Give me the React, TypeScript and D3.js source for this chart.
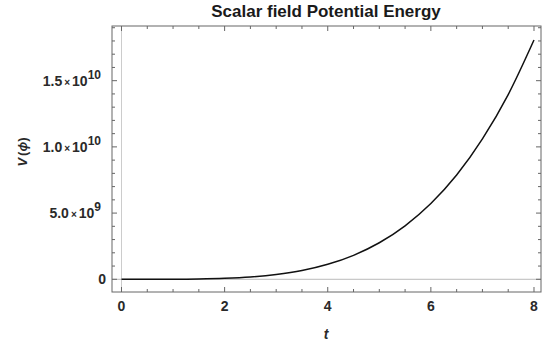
import React from "react";
import * as d3 from "d3";

// Values (V in units of 1e9)
const tValues = [0, 0.5, 1, 1.5, 2, 2.5, 3, 3.5, 4, 4.5, 5, 5.5, 6, 6.5, 7, 7.5, 8];
const vValues = [0, 0.0003, 0.004, 0.022, 0.07, 0.17, 0.36, 0.66, 1.13, 1.81, 2.76, 4.04, 5.72, 7.87, 10.6, 13.95, 18.07];
const xMajorTicks = [0, 2, 4, 6, 8];
const yMajorTicks = [0, 5, 10, 15];
const yTickMantissa = ["0", "5.0", "1.0", "1.5"];
const yTickExponent = ["", "9", "10", "10"];
const xDomain = [-0.184, 8.136];
const yDomain = [-0.96, 19.13];

const W = 552;
const H = 346;

export default function App() {
  const x = d3.scaleLinear().domain(xDomain).range([112, 541]);
  const y = d3.scaleLinear().domain(yDomain).range([292, 26]);
  const data = tValues.map((t, i) => ({ t, v: vValues[i] }));
  const line = d3
    .line<{ t: number; v: number }>()
    .x((d) => x(d.t))
    .y((d) => y(d.v))
    .curve(d3.curveMonotoneX);

  const xMinor = d3.range(0, 8.01, 0.5).filter((v) => Math.abs(v % 2) > 1e-9);
  const yMinor = d3.range(0, 19.01, 1).filter((v) => v % 5 !== 0);

  const [x0, x1] = [x(xDomain[0]), x(xDomain[1])];
  const [y0, y1] = [y(yDomain[0]), y(yDomain[1])];
  const tickColor = "#666";
  const font = "Liberation Sans, Arial, sans-serif";
  const labelColor = "#2a2a2a";

  return (
    <svg
      width={W}
      height={H}
      style={{ position: "absolute", left: 0, top: 0, background: "#fff" }}
      fontFamily={font}
    >
      <rect x={0} y={0} width={W} height={H} fill="#fff" />
      {/* axis lines */}
      <line x1={x0} x2={x1} y1={y(0)} y2={y(0)} stroke="#bbb" strokeWidth={1} />
      <line x1={x(0)} x2={x(0)} y1={y0} y2={y1} stroke="#ccc" strokeWidth={1} />

      {/* ticks */}
      {xMajorTicks.map((t) => (
        <g key={"xm" + t}>
          <line x1={x(t)} x2={x(t)} y1={y0} y2={y0 - 5} stroke={tickColor} />
          <line x1={x(t)} x2={x(t)} y1={y1} y2={y1 + 5} stroke={tickColor} />
        </g>
      ))}
      {xMinor.map((t) => (
        <g key={"xn" + t}>
          <line x1={x(t)} x2={x(t)} y1={y0} y2={y0 - 3} stroke={tickColor} />
          <line x1={x(t)} x2={x(t)} y1={y1} y2={y1 + 3} stroke={tickColor} />
        </g>
      ))}
      {yMajorTicks.map((v) => (
        <g key={"ym" + v}>
          <line x1={x0} x2={x0 + 5} y1={y(v)} y2={y(v)} stroke={tickColor} />
          <line x1={x1} x2={x1 - 5} y1={y(v)} y2={y(v)} stroke={tickColor} />
        </g>
      ))}
      {yMinor.map((v) => (
        <g key={"yn" + v}>
          <line x1={x0} x2={x0 + 3} y1={y(v)} y2={y(v)} stroke={tickColor} />
          <line x1={x1} x2={x1 - 3} y1={y(v)} y2={y(v)} stroke={tickColor} />
        </g>
      ))}

      {/* frame */}
      <rect x={x0} y={y1} width={x1 - x0} height={y0 - y1} fill="none" stroke="#666" strokeWidth={1} />

      {/* curve */}
      <path d={line(data) || ""} fill="none" stroke="#111" strokeWidth={1.5} />

      {/* x tick labels */}
      {xMajorTicks.map((t) => (
        <text key={"xl" + t} x={x(t)} y={311} textAnchor="middle" fontSize={14} fontWeight="bold" fill={labelColor}>
          {t}
        </text>
      ))}

      {/* y tick labels */}
      {yMajorTicks.map((v, i) => (
        <text key={"yl" + v} x={yTickExponent[i] === "" ? 106 : 101} y={y(v) + 5} textAnchor="end" fontSize={14} fontWeight="bold" fill={labelColor}>
          {yTickExponent[i] === "" ? (
            yTickMantissa[i]
          ) : (
            <>
              <tspan>{yTickMantissa[i]}</tspan>
              <tspan fontSize={10} dx={2}>×</tspan>
              <tspan dx={2}>10</tspan>
              <tspan fontSize={12} dy={-7}>{yTickExponent[i]}</tspan>
            </>
          )}
        </text>
      ))}

      {/* title */}
      <text x={326} y={17} textAnchor="middle" fontSize={17} fontWeight="bold" fill="#1a1a1a">
        Scalar field Potential Energy
      </text>

      {/* axis labels */}
      <text x={326} y={339} textAnchor="middle" fontSize={14} fontWeight="bold" fontStyle="italic" fill={labelColor}>
        t
      </text>
      <text
        transform={`translate(27,152) rotate(-90)`}
        textAnchor="middle"
        fontSize={13}
        fontWeight="bold"
        fill={labelColor}
      >
        <tspan fontStyle="italic">V</tspan>
        <tspan dx={2}>(</tspan>
        <tspan fontStyle="italic">ϕ</tspan>
        <tspan>)</tspan>
      </text>
    </svg>
  );
}
